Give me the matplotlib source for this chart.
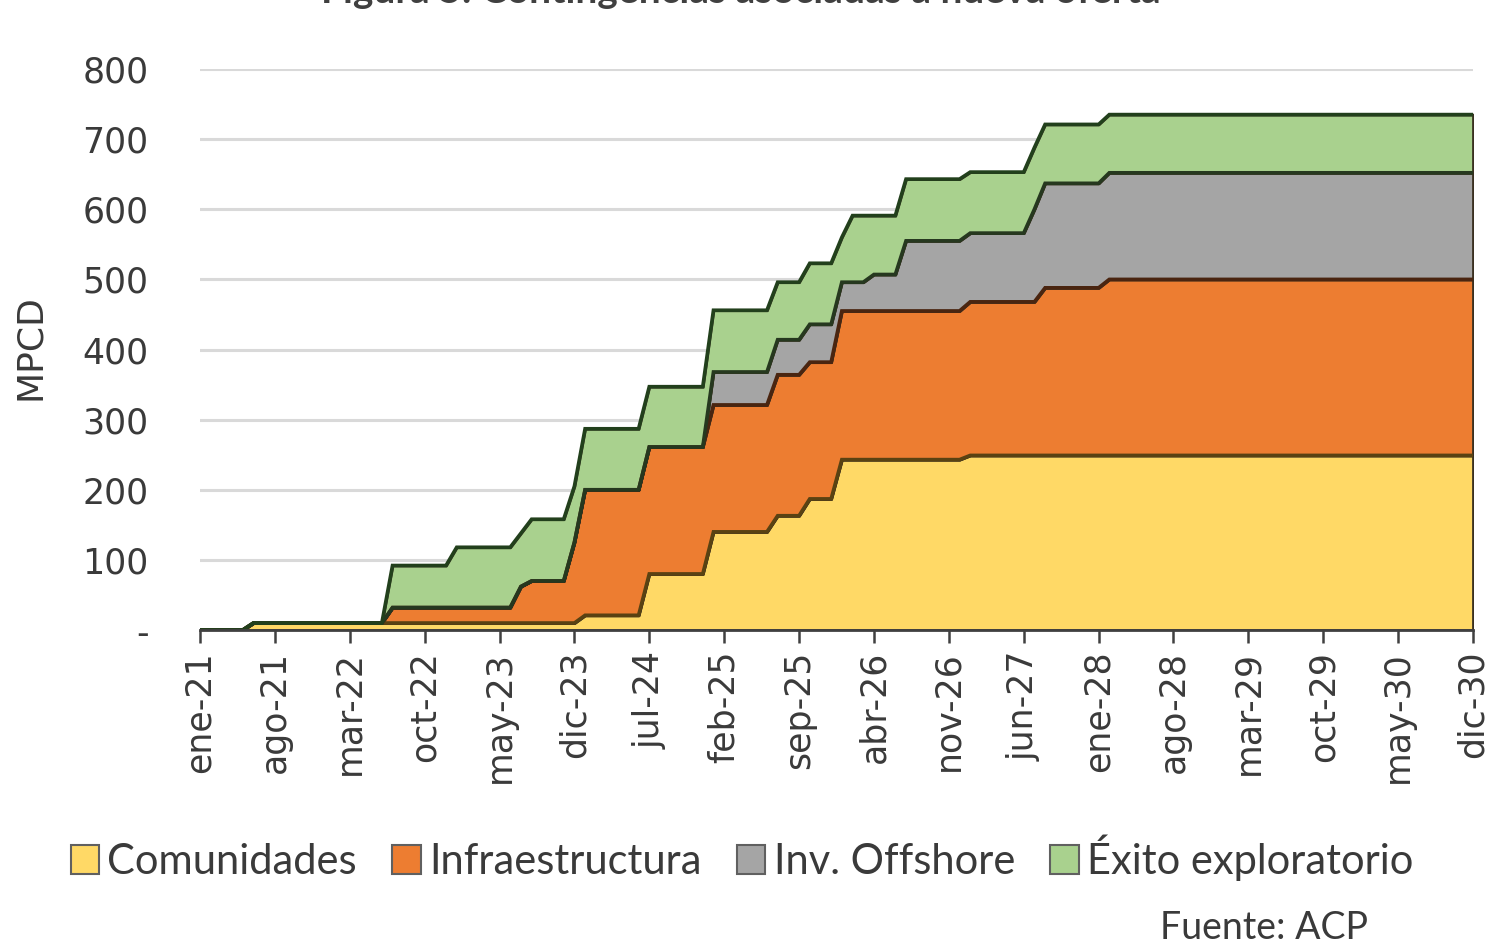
import matplotlib
matplotlib.use('Agg')
import matplotlib.pyplot as plt
from matplotlib.patches import Patch
import numpy as np

# Meses: ene-21 ... dic-30 (indice 0..119)
MESES = ['ene', 'feb', 'mar', 'abr', 'may', 'jun', 'jul', 'ago', 'sep', 'oct', 'nov', 'dic']
N_MESES = 120
etiquetas = [f'{MESES[k % 12]}-{21 + k // 12}' for k in range(N_MESES)]

# Valores MPCD por serie: mes en que cambia el valor y valor a partir de ese mes
comunidades_mes = [0, 5, 36, 42, 48, 54, 57, 60, 72]
comunidades_val = [0, 10, 21, 80, 140, 163, 187, 243, 249]

infra_mes = [0, 18, 30, 31, 35, 36, 42, 48, 54, 57, 60, 72, 79, 85]
infra_val = [0, 22, 52, 60, 115, 179, 181, 181, 201, 195, 212, 219, 239, 251]

offshore_mes = [0, 48, 54, 57, 60, 63, 66, 72, 78, 79, 85]
offshore_val = [0, 47, 50, 54, 41, 52, 100, 98, 132, 149, 152]

exito_mes = [0, 18, 24, 30, 31, 35, 36, 42, 48, 54, 57, 60, 61, 63, 66, 72, 78, 79, 85]
exito_val = [0, 60, 86, 76, 88, 80, 87, 86, 88, 82, 87, 64, 95, 84, 88, 87, 88, 84, 83]

series = ['Comunidades', 'Infraestructura', 'Inv. Offshore', 'Éxito exploratorio']
colores = ['#FFD966', '#ED7D31', '#A5A5A5', '#A9D18E']
bordes = ['#5a4212', '#4a2510', '#26381f', '#22401c']


def expandir(meses, valores):
    """Mantiene cada valor hasta el siguiente cambio (mensual)."""
    idx = np.searchsorted(meses, np.arange(N_MESES), side='right') - 1
    return np.array(valores)[idx]


datos = [expandir(comunidades_mes, comunidades_val),
         expandir(infra_mes, infra_val),
         expandir(offshore_mes, offshore_val),
         expandir(exito_mes, exito_val)]
x = np.arange(N_MESES)

fig = plt.figure(figsize=(14.9, 9.44), dpi=100)
ax = fig.add_axes([0.1342, 0.3326, 0.8544, 0.5943])

polys = ax.stackplot(x, *datos, colors=colores, linewidth=2.0, zorder=2)
for p in polys:
    p.set_edgecolor('#3a3020')

# bordes superiores de cada serie
acum = np.cumsum(datos, axis=0)
for tope, ec in zip(acum, bordes):
    ax.plot(x, tope, color=ec, linewidth=2.6, zorder=3, solid_joinstyle='miter')

ax.set_xlim(0, N_MESES - 1)
ax.set_ylim(0, 800)

yt = np.arange(0, 801, 100)
ax.set_yticks(yt)
ax.set_yticklabels(['-'] + [str(v) for v in yt[1:]])
ax.tick_params(axis='y', length=0, pad=37, labelsize=25, labelcolor='#3a3a3a')

xt = np.arange(0, N_MESES, 7)
ax.set_xticks(xt)
ax.set_xticklabels([etiquetas[k] for k in xt], rotation=90)
ax.tick_params(axis='x', direction='out', length=9, width=1.8, color='#404040',
               pad=6, labelsize=25, labelcolor='#3a3a3a')

ax.grid(axis='y', color='#d9d9d9', linewidth=2.2, zorder=0)
ax.set_axisbelow(True)
for s in ['top', 'right', 'left']:
    ax.spines[s].set_visible(False)
ax.spines['bottom'].set_color('#404040')
ax.spines['bottom'].set_linewidth(2.0)
ax.spines['bottom'].set_zorder(4)

ax.set_ylabel('MPCD', fontsize=26, color='#3a3a3a')
ax.yaxis.set_label_coords(-0.120, 0.505)

# titulo (cortado en el borde superior, como en la imagen)
fig.text(0.497, 0.9968, 'Figura 5: Contingencias asociadas a nueva oferta',
         ha='center', va='baseline', fontsize=28, fontfamily='Lato',
         fontweight='bold', color='#404040')

handles = [Patch(facecolor=c, edgecolor='#606060', linewidth=1.5) for c in colores]
fig.legend(handles, series, loc='center', bbox_to_anchor=(0.498, 0.091), ncol=4,
           frameon=False, prop={'family': 'Lato', 'size': 30},
           handlelength=0.68, handleheight=0.68, handletextpad=0.2,
           columnspacing=0.85, labelcolor='#3a3a3a')

fig.text(0.7785, 1 - 939 / 944, 'Fuente: ACP', ha='left', va='baseline',
         fontsize=27, fontfamily='Lato', color='#3a3a3a')

fig.savefig('out.png', dpi=100, facecolor='white')
